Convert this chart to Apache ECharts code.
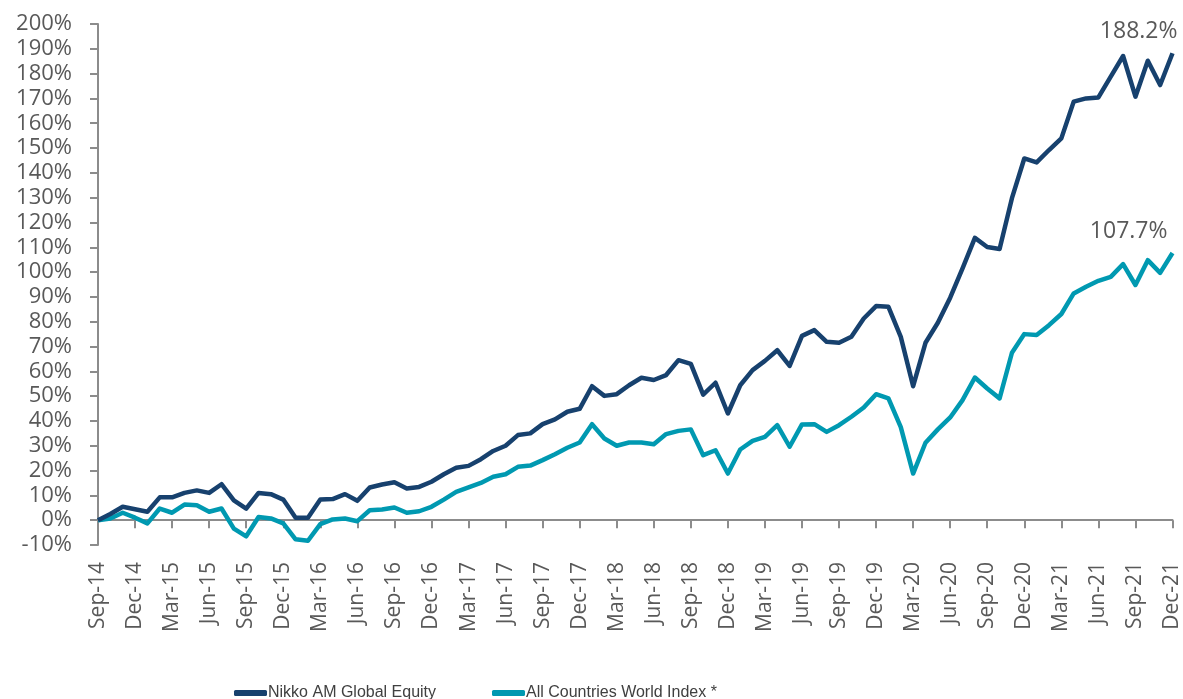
<!DOCTYPE html>
<html>
<head>
<meta charset="utf-8">
<script src="https://cdn.jsdelivr.net/npm/echarts@6/dist/echarts.min.js"></script>
<style>
html,body{margin:0;padding:0;background:#fff;}
#chart{width:1183px;height:699px;}
</style>
</head>
<body>
<div id="chart"></div>
<script>
const months = [
'Sep-14','Oct-14','Nov-14','Dec-14','Jan-15','Feb-15','Mar-15','Apr-15','May-15','Jun-15','Jul-15','Aug-15',
'Sep-15','Oct-15','Nov-15','Dec-15','Jan-16','Feb-16','Mar-16','Apr-16','May-16','Jun-16','Jul-16','Aug-16',
'Sep-16','Oct-16','Nov-16','Dec-16','Jan-17','Feb-17','Mar-17','Apr-17','May-17','Jun-17','Jul-17','Aug-17',
'Sep-17','Oct-17','Nov-17','Dec-17','Jan-18','Feb-18','Mar-18','Apr-18','May-18','Jun-18','Jul-18','Aug-18',
'Sep-18','Oct-18','Nov-18','Dec-18','Jan-19','Feb-19','Mar-19','Apr-19','May-19','Jun-19','Jul-19','Aug-19',
'Sep-19','Oct-19','Nov-19','Dec-19','Jan-20','Feb-20','Mar-20','Apr-20','May-20','Jun-20','Jul-20','Aug-20',
'Sep-20','Oct-20','Nov-20','Dec-20','Jan-21','Feb-21','Mar-21','Apr-21','May-21','Jun-21','Jul-21','Aug-21',
'Sep-21','Oct-21','Nov-21','Dec-21'
];
const nikkoName = 'Nikko AM Global Equity';
const acwiName = 'All Countries World Index *';
const nikko = [
0,2.5,5.4,4.4,3.4,9.2,9.2,11,12,11,14.5,8,
4.7,11,10.5,8.3,1,1,8.3,8.5,10.5,7.8,13.2,14.4,
15.3,12.8,13.4,15.5,18.5,21.1,21.9,24.6,27.9,30,34.3,35,
38.7,40.6,43.7,44.9,54,50.1,50.8,54.4,57.4,56.5,58.5,64.5,
63,50.6,55.4,43,54.4,60.5,64.2,68.5,62.2,74.3,76.6,71.9,
71.5,73.9,81.3,86.3,86,73.9,54,71.5,79.6,89.7,101.5,113.8,
110.1,109.3,129.8,145.8,144.2,149.2,153.9,168.7,170,170.4,178.8,187.1,
170.7,185.2,175.4,188.2
];
const acwi = [
0,0.7,3,1,-1.3,4.7,3,6.3,6,3.4,4.7,-3.4,
-6.5,1.3,0.7,-1.3,-7.7,-8.3,-1.6,0.3,0.7,-0.4,4,4.3,
5.1,3,3.6,5.4,8.3,11.4,13.2,15,17.5,18.5,21.5,22,
24.2,26.6,29.2,31.3,38.7,32.9,30,31.3,31.3,30.6,34.7,36,
36.6,26.2,28.2,18.8,28.5,32,33.6,38.3,29.6,38.6,38.7,35.6,
38.3,41.7,45.4,50.8,49.1,37.5,18.8,31.2,36.6,41.4,48.4,57.5,
53.1,49.1,67.5,75,74.6,78.6,83.1,91.4,94.1,96.5,98.1,103.2,
94.8,104.8,99.7,107.7
];
const endLabels = ['188.2%', '107.7%'];

const darkColor = '#17416e';
const tealColor = '#0099b1';
const textColor = '#595959';
const font = "'Open Sans', 'Liberation Sans', sans-serif";
const legendFont = "'Liberation Sans Narrow', 'Liberation Sans', sans-serif";

const chart = echarts.init(document.getElementById('chart'), null, {renderer: 'canvas'});
chart.setOption({
  animation: false,
  backgroundColor: '#fff',
  grid: {left: 98, right: 10, top: 24, bottom: 154, containLabel: false},
  legend: [
    {
      data: [nikkoName], left: 229, top: 680, icon: 'roundRect',
      itemWidth: 33, itemHeight: 6, itemGap: 0,
      textStyle: {color: '#404040', fontSize: 16, fontFamily: legendFont, padding: [0,0,0,-4]}
    },
    {
      data: [acwiName], left: 487, top: 680, icon: 'roundRect',
      itemWidth: 33, itemHeight: 6, itemGap: 0,
      textStyle: {color: '#404040', fontSize: 16, fontFamily: legendFont, padding: [0,0,0,-4]}
    }
  ],
  xAxis: {
    type: 'category',
    data: months,
    boundaryGap: false,
    axisLine: {onZero: true, lineStyle: {color: '#8c8c8c', width: 2}},
    axisTick: {show: true, interval: 2, length: 8, lineStyle: {color: '#8c8c8c', width: 2}},
    axisLabel: {interval: 2, rotate: 90, margin: 17, color: textColor, fontSize: 21, fontFamily: font},
    splitLine: {show: false}
  },
  yAxis: {
    type: 'value',
    min: -10, max: 200, interval: 10,
    axisLine: {show: true, lineStyle: {color: '#8c8c8c', width: 2}},
    axisTick: {show: true, length: 8, lineStyle: {color: '#8c8c8c', width: 2}},
    axisLabel: {formatter: '{value}%', margin: 26, color: textColor, fontSize: 22, fontFamily: font},
    splitLine: {show: false}
  },
  series: [
    {
      name: nikkoName, type: 'line', data: nikko,
      symbol: 'none', lineStyle: {color: darkColor, width: 4.5, join: 'round'},
      itemStyle: {color: darkColor}, z: 3,
      endLabel: {show: true, formatter: endLabels[0], align: 'right', verticalAlign: 'bottom',
        offset: [-3, -10], color: textColor, fontSize: 23, fontFamily: font}
    },
    {
      name: acwiName, type: 'line', data: acwi,
      symbol: 'none', lineStyle: {color: tealColor, width: 4.5, join: 'round'},
      itemStyle: {color: tealColor}, z: 2,
      endLabel: {show: true, formatter: endLabels[1], align: 'right', verticalAlign: 'bottom',
        offset: [-13, -10], color: textColor, fontSize: 23, fontFamily: font}
    }
  ]
});
</script>
</body>
</html>
